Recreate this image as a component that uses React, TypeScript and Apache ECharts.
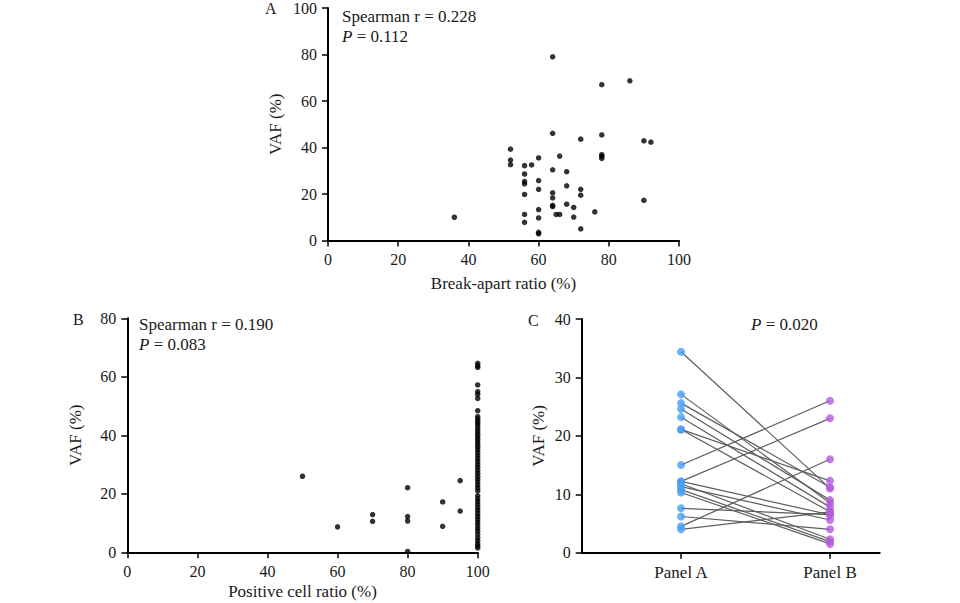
import React, { useEffect, useRef } from "react";
import * as echarts from "echarts";

// Panel A: break-apart ratio (%) vs VAF (%)
const panelAPoints: [number, number][] = [
  [36, 10], [52, 39.3], [52, 34.6], [52, 32.6], [56, 32.2], [56, 28.6], [56, 25.4], [56, 24.4],
  [56, 19.8], [56, 11.2], [56, 7.8], [58, 32.5], [60, 35.5], [60, 25.8], [60, 22], [60, 13.3],
  [60, 9.7], [60, 3.5], [60, 2.9], [64, 79], [64, 46.1], [64, 30.4], [64, 20.5], [64, 18.3],
  [64, 15.1], [64, 14.6], [65, 11.2], [66, 11.2], [66, 36.3], [68, 29.6], [68, 23.5], [68, 15.6],
  [70, 14.2], [70, 10.1], [72, 43.6], [72, 22], [72, 19.5], [72, 5], [76, 12.3], [78, 67],
  [78, 45.4], [78, 36.9], [78, 36.2], [78, 35.3], [86, 68.7], [90, 42.9], [90, 17.3], [92, 42.3],
];

// Panel B: positive cell ratio (%) vs VAF (%)
const panelBOther: [number, number][] = [
  [50, 26], [60, 8.7], [70, 12.9], [70, 10.6], [80, 22.1], [80, 12.2], [80, 10.7], [80, 0.3],
  [90, 17.2], [90, 8.9], [95, 24.5], [95, 14.1],
];
const panelBFullVAF: number[] = [
  64.6, 63.8, 63.2, 57.2, 54.9, 54, 52.6, 48.4, 46.4, 45.6, 44.8, 44, 43.2, 42.2, 41.3, 40.4,
  39.5, 38.6, 37.7, 36.8, 35.9, 35, 34, 33, 32, 31, 30, 29, 28, 27, 26, 25, 24, 23, 22, 21,
  19.3, 18.3, 17.3, 16.3, 15.3, 14.3, 13.3, 12.3, 11.3, 10.3, 9.3, 8.3, 7.3, 6.2, 5, 4, 3, 2.2, 1.5,
];

// Panel C: paired VAF (%) Panel A vs Panel B
const pairA: number[] = [34.4, 27.1, 25.6, 24.6, 23.2, 21.1, 21.1, 15.0, 12.2, 12.2, 11.8, 11.3, 10.8, 10.3, 7.6, 6.2, 4.5, 4.0];
const pairB: number[] = [11.0, 8.5, 11.2, 9.0, 7.8, 12.3, 7.0, 26.0, 23.0, 6.5, 2.3, 5.6, 1.9, 1.5, 6.5, 4.0, 16.0, 7.0];
const panelCCategories = ["Panel A", "Panel B"];
const panelCPositions = [2, 5];

const statsA = ["Spearman r = 0.228", "0.112"];
const statsB = ["Spearman r = 0.190", "0.083"];
const statsC = "0.020";

const FONT = '"Liberation Serif", "Times New Roman", serif';
const TXT = "#1a1a1a";
const TICK_FS = 16;
const NAME_FS = 17;

function baseAxis(extra: any) {
  return {
    axisLine: { show: true, onZero: false, lineStyle: { color: "#000", width: 2 } },
    axisTick: { show: true, inside: false, length: 6, lineStyle: { color: "#000", width: 1.5 } },
    axisLabel: { color: TXT, fontFamily: FONT, fontSize: TICK_FS, margin: 11 },
    splitLine: { show: false },
    nameTextStyle: { color: TXT, fontFamily: FONT, fontSize: NAME_FS },
    ...extra,
  };
}

export default function App() {
  const ref = useRef<HTMLDivElement>(null);
  useEffect(() => {
    if (!ref.current) return;
    const chart = echarts.init(ref.current, null, { renderer: "svg" });

    const pairSeries = pairA.map((a, i) => ({
      type: "line",
      xAxisIndex: 2,
      yAxisIndex: 2,
      data: [[panelCPositions[0], a], [panelCPositions[1], pairB[i]]],
      symbol: "none",
      lineStyle: { color: "#5e5e5e", width: 1.2 },
      z: 2,
      silent: true,
    }));

    const txt = (x: number, y: number, text: string, fs = NAME_FS) => ({
      type: "text",
      x,
      y,
      style: {
        text,
        fill: TXT,
        fontFamily: FONT,
        fontSize: fs,
        verticalAlign: "middle",
        align: "left",
      },
    });
    const pText = (x: number, y: number, val: string) => ({
      type: "text",
      x,
      y,
      style: {
        text: `{i|P}{n| = ${val}}`,
        fill: TXT,
        fontFamily: FONT,
        fontSize: NAME_FS,
        verticalAlign: "middle",
        align: "left",
        rich: {
          i: { fontStyle: "italic", fontFamily: FONT, fontSize: NAME_FS, fill: TXT },
          n: { fontFamily: FONT, fontSize: NAME_FS, fill: TXT },
        },
      },
    });

    const option: any = {
      animation: false,
      backgroundColor: "#fff",
      grid: [
        { left: 328, top: 6.5, width: 351, height: 234, containLabel: false },
        { left: 127.3, top: 318.3, width: 350.4, height: 234, containLabel: false },
        { left: 581.7, top: 319, width: 298, height: 233.7, containLabel: false },
      ],
      xAxis: [
        baseAxis({
          gridIndex: 0, type: "value", min: 0, max: 100, interval: 20,
          name: "Break-apart ratio (%)", nameLocation: "middle", nameGap: 34,
        }),
        baseAxis({
          gridIndex: 1, type: "value", min: 0, max: 100, interval: 20,
          name: "Positive cell ratio (%)", nameLocation: "middle", nameGap: 31,
        }),
        baseAxis({
          gridIndex: 2, type: "value", min: 0, max: 6,
          axisTick: { show: true, inside: false, length: 6, lineStyle: { color: "#000", width: 1.5 }, customValues: panelCPositions },
          axisLabel: {
            color: TXT, fontFamily: FONT, fontSize: NAME_FS, margin: 11,
            customValues: panelCPositions,
            formatter: (v: number) => {
              const idx = panelCPositions.indexOf(v);
              return idx >= 0 ? panelCCategories[idx] : "";
            },
          },
        }),
      ],
      yAxis: [
        baseAxis({
          gridIndex: 0, type: "value", min: 0, max: 100, interval: 20,
          name: "VAF (%)", nameLocation: "middle", nameGap: 44,
        }),
        baseAxis({
          gridIndex: 1, type: "value", min: 0, max: 80, interval: 20,
          name: "VAF (%)", nameLocation: "middle", nameGap: 43,
        }),
        baseAxis({
          gridIndex: 2, type: "value", min: 0, max: 40, interval: 10,
          name: "VAF (%)", nameLocation: "middle", nameGap: 35,
        }),
      ],
      series: [
        {
          type: "scatter", xAxisIndex: 0, yAxisIndex: 0, data: panelAPoints,
          symbolSize: 5.5, itemStyle: { color: "#000" }, z: 3,
        },
        {
          type: "scatter", xAxisIndex: 1, yAxisIndex: 1,
          data: [...panelBOther, ...panelBFullVAF.map((v) => [100, v])],
          symbolSize: 5.5, itemStyle: { color: "#000" }, z: 3,
        },
        ...pairSeries,
        {
          type: "scatter", xAxisIndex: 2, yAxisIndex: 2,
          data: pairA.map((v) => [panelCPositions[0], v]),
          symbolSize: 8, itemStyle: { color: "#4a9df2" }, z: 4,
        },
        {
          type: "scatter", xAxisIndex: 2, yAxisIndex: 2,
          data: pairB.map((v) => [panelCPositions[1], v]),
          symbolSize: 8, itemStyle: { color: "#b45ddc" }, z: 4,
        },
      ],
      graphic: [
        txt(265, 8, "A", TICK_FS),
        txt(73, 319, "B", TICK_FS),
        txt(528, 320, "C", TICK_FS),
        txt(342, 16, statsA[0]),
        pText(342, 36, statsA[1]),
        txt(139, 324, statsB[0]),
        pText(139, 344, statsB[1]),
        pText(751, 324, statsC),
      ],
    };
    chart.setOption(option);
    return () => chart.dispose();
  }, []);
  return <div ref={ref} style={{ width: 960, height: 603, position: "absolute", left: 0, top: 0 }} />;
}
